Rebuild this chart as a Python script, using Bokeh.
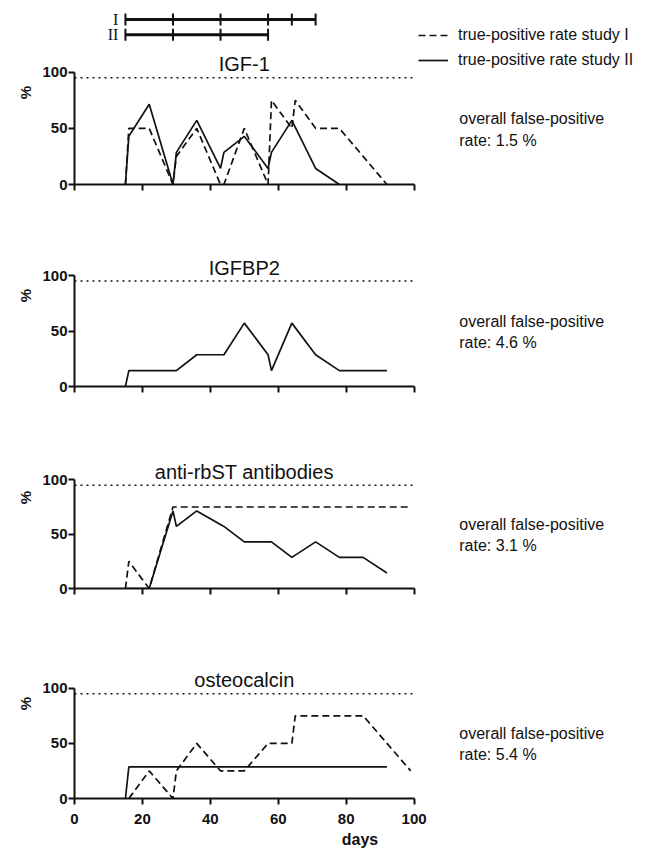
import math
from bokeh.plotting import figure
from bokeh.models import Range1d, Legend, LegendItem, FixedTicker
from bokeh.layouts import column
from bokeh.embed import file_html
from bokeh.resources import INLINE
from bokeh.core.properties import value

# ---------------- data ----------------
panel_titles = ["IGF-1", "IGFBP2", "anti-rbST antibodies", "osteocalcin"]
false_positive_rates = ["1.5", "4.6", "3.1", "5.4"]

igf1_days_I = [15, 16, 22, 29, 30, 36, 43, 44, 50, 57, 58, 64, 65, 71, 78, 92]
igf1_rate_I = [0, 50, 50, 0, 25, 50, 0, 0, 50, 0, 75, 50, 75, 50, 50, 0]
igf1_days_II = [15, 16, 22, 29, 30, 36, 43, 44, 50, 57, 58, 64, 71, 78]
igf1_rate_II = [0, 42.9, 71.4, 0, 28.6, 57.1, 14.3, 28.6, 42.9, 14.3, 28.6, 57.1, 14.3, 0]

igfbp2_days_I = []
igfbp2_rate_I = []
igfbp2_days_II = [15, 16, 30, 36, 44, 50, 57, 58, 64, 71, 78, 92]
igfbp2_rate_II = [0, 14.3, 14.3, 28.6, 28.6, 57.1, 28.6, 14.3, 57.1, 28.6, 14.3, 14.3]

ab_days_I = [15, 16, 22, 29, 99]
ab_rate_I = [0, 25, 0, 75, 75]
ab_days_II = [15, 22, 29, 30, 36, 44, 50, 58, 64, 71, 78, 85, 92]
ab_rate_II = [0, 0, 71.4, 57.1, 71.4, 57.1, 42.9, 42.9, 28.6, 42.9, 28.6, 28.6, 14.3]

oc_days_I = [16, 22, 29, 30, 36, 43, 50, 57, 64, 65, 85, 99]
oc_rate_I = [0, 25, 0, 25, 50, 25, 25, 50, 50, 75, 75, 25]
oc_days_II = [15, 16, 92]
oc_rate_II = [0, 28.6, 28.6]

injection_days_I = [15, 29, 43, 57, 64, 71]
injection_days_II = [15, 29, 43, 57]
study_labels = ["I", "II"]

threshold = 95
x_ticks = [0, 20, 40, 60, 80, 100]
y_ticks = [0, 50, 100]
legend_labels = ["true-positive rate study I", "true-positive rate study II"]

series = [
    (igf1_days_I, igf1_rate_I, igf1_days_II, igf1_rate_II),
    (igfbp2_days_I, igfbp2_rate_I, igfbp2_days_II, igfbp2_rate_II),
    (ab_days_I, ab_rate_I, ab_days_II, ab_rate_II),
    (oc_days_I, oc_rate_I, oc_days_II, oc_rate_II),
]

# ---------------- layout ----------------
FONT = "Liberation Sans"
INK = "#111111"
W = 645
LEFT = 74
PX_PER_DAY = 3.396
frame_px = [184, 182, 182, 190]
px_per_pct = [1.123, 1.11, 1.087, 1.103]
bottom_px = [20, 20, 20, 52]

figs = []
for i in range(4):
    dI, rI, dII, rII = series[i]
    last = (i == 3)
    p = figure(width=W, height=frame_px[i] + bottom_px[i],
               output_backend="svg", toolbar_location=None,
               x_range=Range1d(0, (W - LEFT) / PX_PER_DAY),
               y_range=Range1d(0, frame_px[i] / px_per_pct[i]),
               min_border_left=LEFT, min_border_right=0,
               min_border_top=0, min_border_bottom=bottom_px[i])
    p.outline_line_color = None
    p.grid.visible = False

    # axes
    ya = p.yaxis[0]
    ya.ticker = FixedTicker(ticks=y_ticks)
    ya.bounds = (y_ticks[0], y_ticks[-1])
    ya.minor_tick_line_color = None
    ya.major_tick_in = 0
    ya.major_tick_out = 6
    ya.axis_line_width = 2
    ya.major_tick_line_width = 2
    ya.axis_line_color = INK
    ya.major_tick_line_color = INK
    ya.major_label_text_font = FONT
    ya.major_label_text_font_style = "bold"
    ya.major_label_text_font_size = "15px"
    ya.major_label_text_color = INK
    ya.major_label_standoff = 1
    ya.axis_label = "%"
    ya.axis_label_text_font = FONT
    ya.axis_label_text_font_style = "bold"
    ya.axis_label_text_font_size = "15px"
    ya.axis_label_text_color = INK
    ya.axis_label_standoff = 5

    xa = p.xaxis[0]
    xa.ticker = FixedTicker(ticks=x_ticks)
    xa.bounds = (x_ticks[0], x_ticks[-1])
    xa.minor_tick_line_color = None
    xa.major_tick_in = 0
    xa.major_tick_out = 6
    xa.axis_line_width = 2
    xa.major_tick_line_width = 2
    xa.axis_line_color = INK
    xa.major_tick_line_color = INK
    if last:
        xa.major_label_text_font = FONT
        xa.major_label_text_font_style = "bold"
        xa.major_label_text_font_size = "15px"
        xa.major_label_text_color = INK
        xa.major_label_standoff = 9
        xa.axis_label = "days"
        xa.axis_label_text_font = FONT
        xa.axis_label_text_font_style = "bold"
        xa.axis_label_text_font_size = "16px"
        xa.axis_label_text_color = INK
        xa.axis_label_standoff = 4
    else:
        xa.major_label_text_font_size = "1px"
        xa.major_label_text_color = None
        xa.major_label_standoff = 0

    # threshold dotted line
    p.segment(x0=[x_ticks[0]], x1=[x_ticks[-1]], y0=[threshold], y1=[threshold],
              line_color=INK, line_width=1.5, line_dash="2 4")

    r_dash = None
    if dI:
        r_dash = p.line(dI, rI, line_color=INK, line_width=1.7, line_dash="7 4")
    r_solid = p.line(dII, rII, line_color=INK, line_width=1.7)

    # title
    p.text(x=[50], y=[107], text=[panel_titles[i]], text_font=value(FONT),
           text_font_size="20px", text_align="center", text_baseline="middle",
           text_color=INK)
    # false-positive annotation
    p.text(x=[113.3, 113.3], y=[59, 39.5],
           text=["overall false-positive", "rate: " + false_positive_rates[i] + " %"],
           text_font=value(FONT), text_font_size="16px", text_align="left",
           text_baseline="middle", text_color=INK)

    if i == 0:
        # injection timelines
        p.extra_y_ranges = {"tl": Range1d(-8.784, 3.242)}
        for lvl, days, lab in [(2, injection_days_I, study_labels[0]),
                               (1, injection_days_II, study_labels[1])]:
            p.segment(x0=[days[0]], x1=[days[-1]], y0=[lvl], y1=[lvl],
                      line_color=INK, line_width=3, y_range_name="tl")
            p.scatter(days, [lvl] * len(days), marker="dash", angle=math.pi / 2,
                      size=12, line_color=INK, line_width=2, y_range_name="tl")
            p.text(x=[12.9], y=[lvl], text=[lab], text_font=value("Liberation Serif"),
                   text_font_size="16px", text_align="right", text_baseline="middle",
                   text_color=INK, y_range_name="tl")
        legend = Legend(items=[LegendItem(label=legend_labels[0], renderers=[r_dash]),
                               LegendItem(label=legend_labels[1], renderers=[r_solid])],
                        location=(344, 114))
        legend.border_line_color = None
        legend.background_fill_alpha = 0
        legend.padding = 0
        legend.margin = 0
        legend.spacing = 5
        legend.glyph_width = 30
        legend.glyph_height = 20
        legend.label_height = 20
        legend.label_standoff = 10
        legend.label_text_font = FONT
        legend.label_text_font_size = "16px"
        legend.label_text_color = INK
        p.add_layout(legend)

    figs.append(p)

layout = column(*figs)
open("out.html", "w").write(file_html(layout, INLINE))
